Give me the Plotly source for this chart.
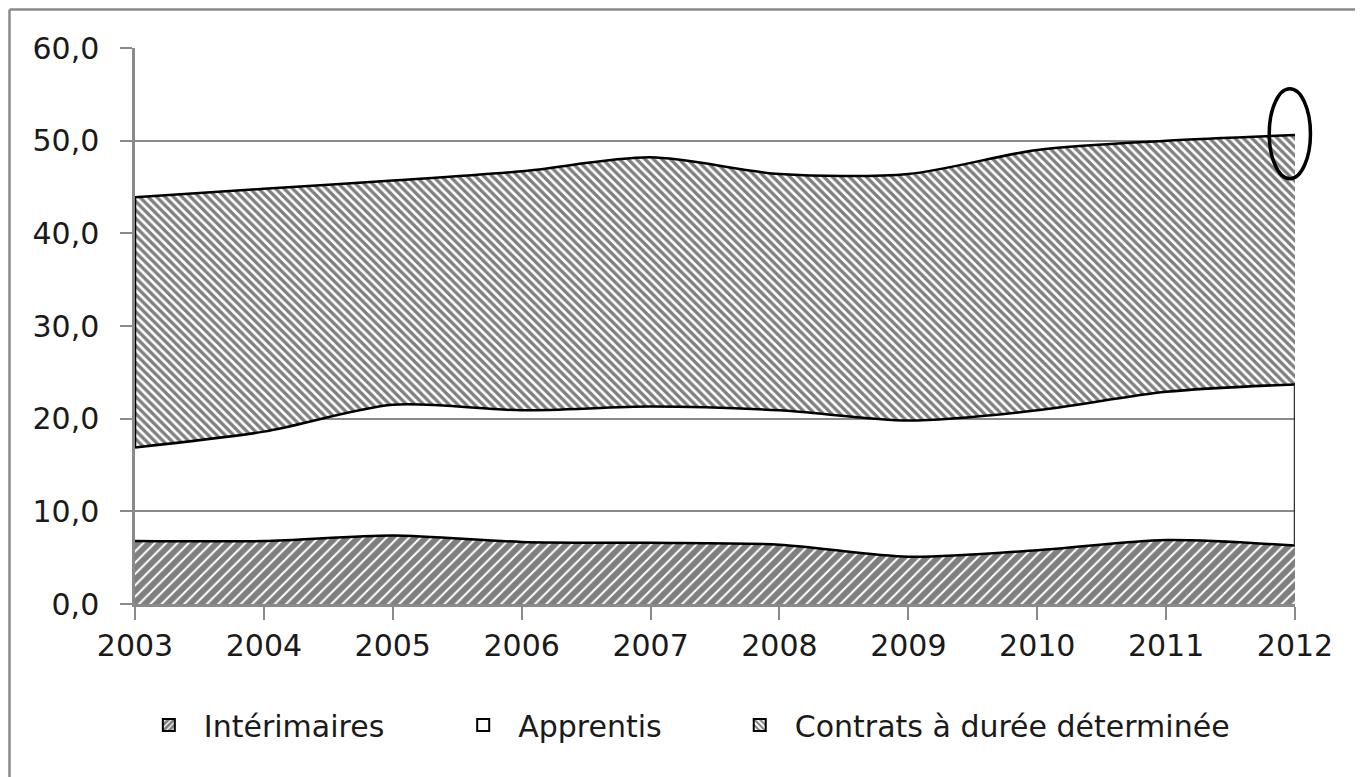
import plotly.graph_objects as go

years = [2003, 2004, 2005, 2006, 2007, 2008, 2009, 2010, 2011, 2012]
interimaires = [6.8, 6.8, 7.4, 6.7, 6.6, 6.4, 5.1, 5.8, 6.9, 6.3]
apprentis = [10.1, 11.8, 14.1, 14.2, 14.7, 14.5, 14.7, 15.1, 16.0, 17.4]
cdd = [27.0, 26.2, 24.2, 25.8, 26.9, 25.5, 26.6, 28.1, 27.1, 26.9]
names = ["Intérimaires", "Apprentis", "Contrats à durée déterminée"]
y_ticks = [0, 10, 20, 30, 40, 50, 60]

FONT = "DejaVu Sans"
TXT = "#1a1a1a"
GRID = "#8a8a8a"

fig = go.Figure()

# stacked areas
fig.add_trace(go.Scatter(
    x=years, y=interimaires, stackgroup="s", mode="lines", name=names[0],
    line=dict(color="black", width=2.5, shape="spline", smoothing=0.8),
    fillcolor="white",
    fillpattern=dict(shape="/", size=8, solidity=0.75, fgcolor="black", bgcolor="white"),
    showlegend=False, hoverinfo="skip"))
fig.add_trace(go.Scatter(
    x=years, y=apprentis, stackgroup="s", mode="lines", name=names[1],
    line=dict(color="black", width=2.5, shape="spline", smoothing=0.8),
    fillcolor="rgba(255,255,255,0)",
    showlegend=False, hoverinfo="skip"))
fig.add_trace(go.Scatter(
    x=years, y=cdd, stackgroup="s", mode="lines", name=names[2],
    line=dict(color="black", width=2.5, shape="spline", smoothing=0.8),
    fillcolor="white",
    fillpattern=dict(shape="\\", size=6, solidity=0.55, fgcolor="black", bgcolor="white"),
    showlegend=False, hoverinfo="skip"))

# cumulative values for edges
top_int = interimaires
top_app = [a + b for a, b in zip(interimaires, apprentis)]
top_all = [a + b for a, b in zip(top_app, cdd)]

# area edge outlines (left edge of CDD, right edge of Apprentis)
fig.add_shape(type="line", x0=years[0], x1=years[0], y0=top_app[0], y1=top_all[0],
              line=dict(color="black", width=2.5))
fig.add_shape(type="line", x0=years[-1], x1=years[-1], y0=top_int[-1], y1=top_app[-1],
              line=dict(color="#333333", width=2.5))

# ellipse around the last value (x in paper units so it is not clipped)
span = years[-1] - years[0]
fig.add_shape(type="circle", xref="paper", yref="y",
              x0=(years[-1] - 0.20 - years[0]) / span, x1=(years[-1] + 0.12 - years[0]) / span,
              y0=top_all[-1] - 4.7, y1=top_all[-1] + 5.0,
              line=dict(color="black", width=3.5))

# legend entries (bar swatches with patterns)
legend_defs = [
    ("legend", names[0], dict(shape="/", size=5, solidity=0.7, fgcolor="black", bgcolor="white"), "black", -0.001),
    ("legend2", names[1], None, "white", 0.270),
    ("legend3", names[2], dict(shape="\\", size=5, solidity=0.5, fgcolor="black", bgcolor="white"), "white", 0.5084),
]
for lg, nm, pat, col, _ in legend_defs:
    marker = dict(color=col, line=dict(color="black", width=2))
    if pat is not None:
        marker["pattern"] = pat
    fig.add_trace(go.Bar(x=[None], y=[None], name=nm, marker=marker, legend=lg,
                         showlegend=True, hoverinfo="skip"))

legend_common = dict(orientation="h", yanchor="middle", y=-0.2176, xanchor="left",
                     font=dict(family=FONT, size=30, color=TXT),
                     bgcolor="rgba(0,0,0,0)", itemwidth=60, borderwidth=0)
layout_legends = {}
for lg, _, _, _, xpos in legend_defs:
    layout_legends[lg] = dict(legend_common, x=xpos)

# outer gray frame (only left & top visible)
fig.add_shape(type="line", xref="paper", yref="paper", x0=-0.1082, x1=-0.1082, y0=1.0693, y1=-0.35,
              line=dict(color=GRID, width=2.5))
fig.add_shape(type="line", xref="paper", yref="paper", x0=-0.1082, x1=1.08, y0=1.0693, y1=1.0693,
              line=dict(color=GRID, width=2.5))

fig.update_layout(
    width=1363, height=777,
    margin=dict(l=127, r=76, t=40, b=181),
    paper_bgcolor="white", plot_bgcolor="white",
    separators=", ",
    font=dict(family=FONT, size=30, color=TXT),
    **layout_legends,
)
fig.update_xaxes(
    range=[years[0], years[-1]], tickmode="array", tickvals=years, ticktext=[str(y) for y in years],
    showgrid=False, showline=True, linecolor=GRID, linewidth=2.5,
    ticks="outside", ticklen=13, tickwidth=2, tickcolor=GRID,
    ticklabelstandoff=0,
    tickfont=dict(family=FONT, size=30, color=TXT), zeroline=False, fixedrange=True)
fig.update_yaxes(
    range=[0, 60], tickmode="array", tickvals=y_ticks, tickformat=".1f",
    showgrid=True, gridcolor=GRID, gridwidth=2,
    showline=True, linecolor=GRID, linewidth=2.5,
    ticks="outside", ticklen=12, tickwidth=2, tickcolor=GRID,
    ticklabelstandoff=15,
    tickfont=dict(family=FONT, size=30, color=TXT), zeroline=False, fixedrange=True)

fig.write_html("out.html")
